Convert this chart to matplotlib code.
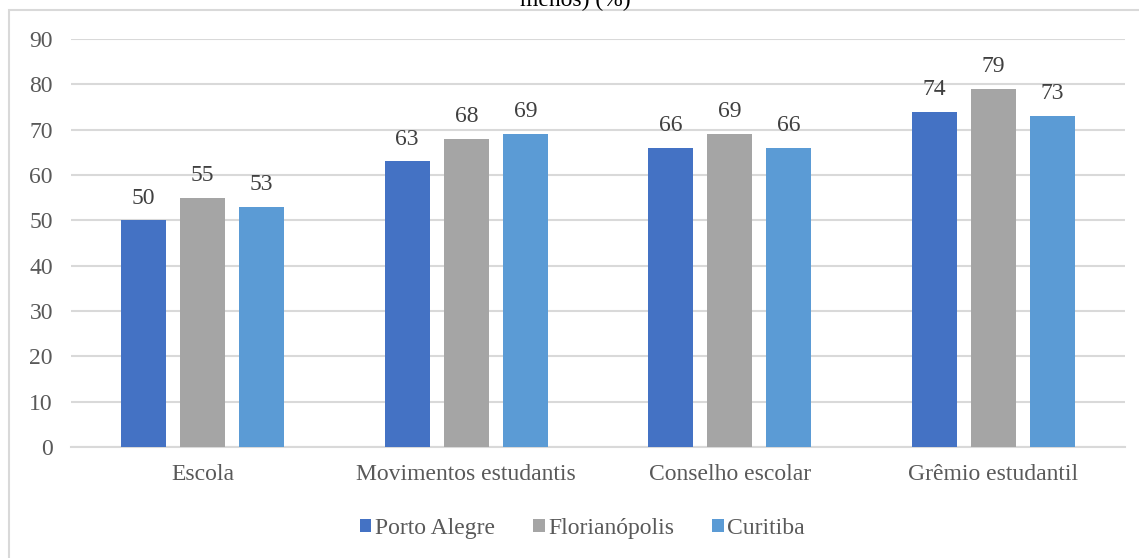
"""Grouped bar chart: participation by city and space (%)."""

import matplotlib

matplotlib.use("Agg")

import matplotlib.pyplot as plt
import numpy as np
from matplotlib.patches import Rectangle


CATEGORIES = ["Escola", "Movimentos estudantis", "Conselho escolar", "Grêmio estudantil"]
CITIES = ["Porto Alegre", "Florianópolis", "Curitiba"]
PORTO_ALEGRE = [50, 63, 66, 74]
FLORIANOPOLIS = [55, 68, 69, 79]
CURITIBA = [53, 69, 66, 73]
Y_TICKS = [0, 10, 20, 30, 40, 50, 60, 70, 80, 90]

COLORS = ["#4472C4", "#A5A5A5", "#5B9BD5"]
TEXT_COLOR = "#595959"
GRID_COLOR = "#D9D9D9"
FONT_SIZE = 17

plt.rcParams["font.family"] = ["Liberation Serif", "DejaVu Serif"]

fig = plt.figure(figsize=(11.39, 5.58), dpi=100)

# outer chart frame
fig.patches.append(
    Rectangle((9 / 1139, -0.1), 1.2, 1 - 10 / 558 + 0.1, transform=fig.transFigure,
              fill=False, edgecolor="#D9D9D9", linewidth=1.5, zorder=0)
)
fig.text(0.505, 1.0, "menos) (%)", ha="center", va="center", fontsize=FONT_SIZE,
         color="#000000")

ax = fig.add_axes([71 / 1139, 1 - 447 / 558, (1125 - 71) / 1139, (447 - 39) / 558])

x = np.arange(len(CATEGORIES))
width = 0.17
step = 0.224
series = [PORTO_ALEGRE, FLORIANOPOLIS, CURITIBA]

for i, (name, values, color) in enumerate(zip(CITIES, series, COLORS)):
    offset = (i - 1) * step
    bars = ax.bar(x + offset, values, width, color=color, label=name, zorder=3)
    for bar, value in zip(bars, values):
        ax.text(bar.get_x() + bar.get_width() / 2, value + 2.6, f"{value}",
                ha="center", va="bottom", fontsize=FONT_SIZE, color="#404040")

ax.set_xlim(-0.5, len(CATEGORIES) - 0.5)
ax.set_ylim(0, 90)
ax.set_yticks(Y_TICKS)
ax.set_xticks(x)
ax.set_xticklabels(CATEGORIES)
ax.tick_params(axis="y", length=0, pad=13, labelsize=FONT_SIZE, labelcolor=TEXT_COLOR)
ax.tick_params(axis="x", length=0, pad=12, labelsize=FONT_SIZE, labelcolor=TEXT_COLOR)
ax.grid(axis="y", color=GRID_COLOR, linewidth=1.5, zorder=0)
for side in ["top", "right", "left"]:
    ax.spines[side].set_visible(False)
ax.spines["bottom"].set_color(GRID_COLOR)
ax.spines["bottom"].set_linewidth(1.5)

ax.legend(loc="center", bbox_to_anchor=(0.485, -0.2), ncol=3, frameon=False,
          fontsize=FONT_SIZE, handlelength=0.5, handleheight=0.5, handletextpad=0.15,
          columnspacing=1.6, labelcolor=TEXT_COLOR)

fig.savefig("out.png", dpi=100)
